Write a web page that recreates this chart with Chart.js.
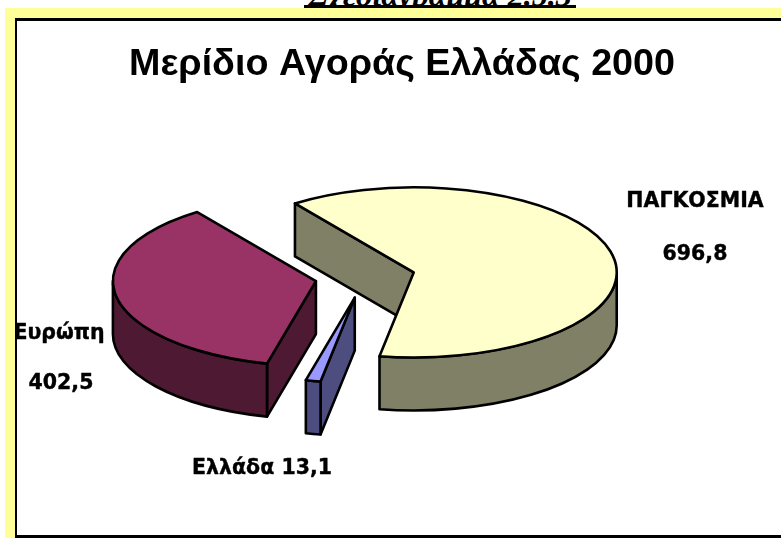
<!DOCTYPE html>
<html lang="el">
<head>
<meta charset="utf-8">
<title>Μερίδιο Αγοράς Ελλάδας 2000</title>
<script src="https://cdn.jsdelivr.net/npm/chart.js@4"></script>
<style>
  html, body { margin: 0; height: 100%; background: #fff; overflow: hidden; }
  #heading {
    position: absolute; left: 304px; width: 272px; top: -19px; height: 24px;
    font: italic bold 32px/28px "Liberation Serif", serif; text-align: center;
    white-space: nowrap; border-bottom: 3px solid #000;
  }
  #band { position: absolute; left: 5px; top: 8px; right: 0; bottom: 0; background: #ffff99; }
  #frame {
    position: absolute; left: 15px; top: 18px; width: 800px; height: 514px;
    background: #fff; border: solid #000; border-width: 3px 0 3px 2px;
  }
  #chartBox { position: absolute; left: 0; top: 0; width: 804px; height: 538px; }
</style>
</head>
<body>
<div id="heading">Σχεδιάγραμμα 2.5.3</div>
<div id="band"></div>
<div id="frame"></div>
<div id="chartBox"><canvas id="shareChart" width="804" height="538"></canvas></div>
<script>
const chartTitle = 'Μερίδιο Αγοράς Ελλάδας 2000';
const categories = ['ΠΑΓΚΟΣΜΙΑ', 'Ελλάδα', 'Ευρώπη'];
const values = [696.8, 13.1, 402.5];
const topColors = ['#ffffcc', '#9999ff', '#993366'];
const wallColors = ['#808066', '#4d4d80', '#4d1933'];

// pie look: flattened circle, extruded downwards, slices pulled apart
const SQUASH = 0.419;
const DEPTH = 53;
const EXPLODE = 50;
const RADIUS = 203;
const PIE_SHIFT_X = -37; // pie sits left of the centred title

// where each slice's caption sits: [name line, value line], or a single line
const captionSpots = [
  [[695, 202], [695, 255]],
  [[262, 469]],
  [[59, 334], [61, 384]]
];

const fmt = v => v.toFixed(1).replace('.', ',');

// one outline per slice top: apex, then along the rim
function topPath(ctx, cx, cy, r, a0, a1) {
  ctx.beginPath();
  ctx.moveTo(cx, cy);
  ctx.ellipse(cx, cy, r, r * SQUASH, 0, a0, a1);
  ctx.closePath();
}

function radialWall(ctx, cx, cy, r, a) {
  const px = cx + Math.cos(a) * r;
  const py = cy + Math.sin(a) * r * SQUASH;
  ctx.beginPath();
  ctx.moveTo(cx, cy);
  ctx.lineTo(px, py);
  ctx.lineTo(px, py + DEPTH);
  ctx.lineTo(cx, cy + DEPTH);
  ctx.closePath();
  ctx.fill();
  ctx.stroke();
}

// rim wall, only the part of the slice on the viewer's side of the pie
function rimWall(ctx, cx, cy, r, a0, a1) {
  const TAU = Math.PI * 2;
  const shift = Math.floor(a0 / TAU) * TAU;
  const spans = [[0, Math.PI], [TAU, TAU + Math.PI]];
  spans.forEach(([lo, hi]) => {
    const from = Math.max(a0 - shift, lo);
    const to = Math.min(a1 - shift, hi);
    if (to <= from) return;
    ctx.beginPath();
    ctx.ellipse(cx, cy, r, r * SQUASH, 0, from, to);
    ctx.ellipse(cx, cy + DEPTH, r, r * SQUASH, 0, to, from, true);
    ctx.closePath();
    ctx.fill();
    ctx.stroke();
  });
}

const pie3d = {
  id: 'pie3d',
  beforeDatasetsDraw(chart) {
    const ctx = chart.ctx;
    const arcs = chart.getDatasetMeta(0).data;
    ctx.save();
    ctx.lineWidth = 2.6;
    ctx.lineJoin = 'round';
    ctx.strokeStyle = '#000';
    arcs.forEach((arc, i) => {
      const mid = (arc.startAngle + arc.endAngle) / 2;
      const cx = arc.x + PIE_SHIFT_X + Math.cos(mid) * EXPLODE;
      const cy = arc.y + Math.sin(mid) * EXPLODE * SQUASH;
      ctx.fillStyle = wallColors[i];
      // a cut face only shows when it turns towards the viewer
      if (Math.cos(arc.startAngle) < 0) radialWall(ctx, cx, cy, arc.outerRadius, arc.startAngle);
      if (Math.cos(arc.endAngle) > 0) radialWall(ctx, cx, cy, arc.outerRadius, arc.endAngle);
      rimWall(ctx, cx, cy, arc.outerRadius, arc.startAngle, arc.endAngle);
      ctx.fillStyle = topColors[i];
      topPath(ctx, cx, cy, arc.outerRadius, arc.startAngle, arc.endAngle);
      ctx.fill();
      ctx.stroke();
    });

    ctx.fillStyle = '#000';
    ctx.strokeStyle = '#000';
    ctx.lineWidth = 0.4;
    ctx.font = 'bold 20.5px "DejaVu Sans"';
    ctx.textAlign = 'center';
    ctx.textBaseline = 'middle';
    const put = (text, spot) => {
      ctx.fillText(text, spot[0], spot[1]);
      ctx.strokeText(text, spot[0], spot[1]);
    };
    categories.forEach((name, i) => {
      const spots = captionSpots[i];
      if (spots.length === 1) {
        put(name + ' ' + fmt(values[i]), spots[0]);
      } else {
        put(name, spots[0]);
        put(fmt(values[i]), spots[1]);
      }
    });
    ctx.restore();
    return false; // faces are drawn above, skip the flat arcs
  }
};

new Chart(document.getElementById('shareChart'), {
  type: 'pie',
  data: {
    labels: categories,
    datasets: [{ data: values, backgroundColor: topColors }]
  },
  plugins: [pie3d],
  options: {
    responsive: false,
    animation: false,
    rotation: -35.8,
    radius: RADIUS,
    layout: { padding: { bottom: 71 } },
    plugins: {
      legend: { display: false },
      tooltip: { enabled: false },
      title: {
        display: true,
        text: chartTitle,
        color: '#000',
        font: { family: '"Liberation Sans"', size: 37.7, weight: 'bold', lineHeight: 1.2 },
        padding: { top: 42, bottom: 0 }
      }
    }
  }
});
</script>
</body>
</html>
